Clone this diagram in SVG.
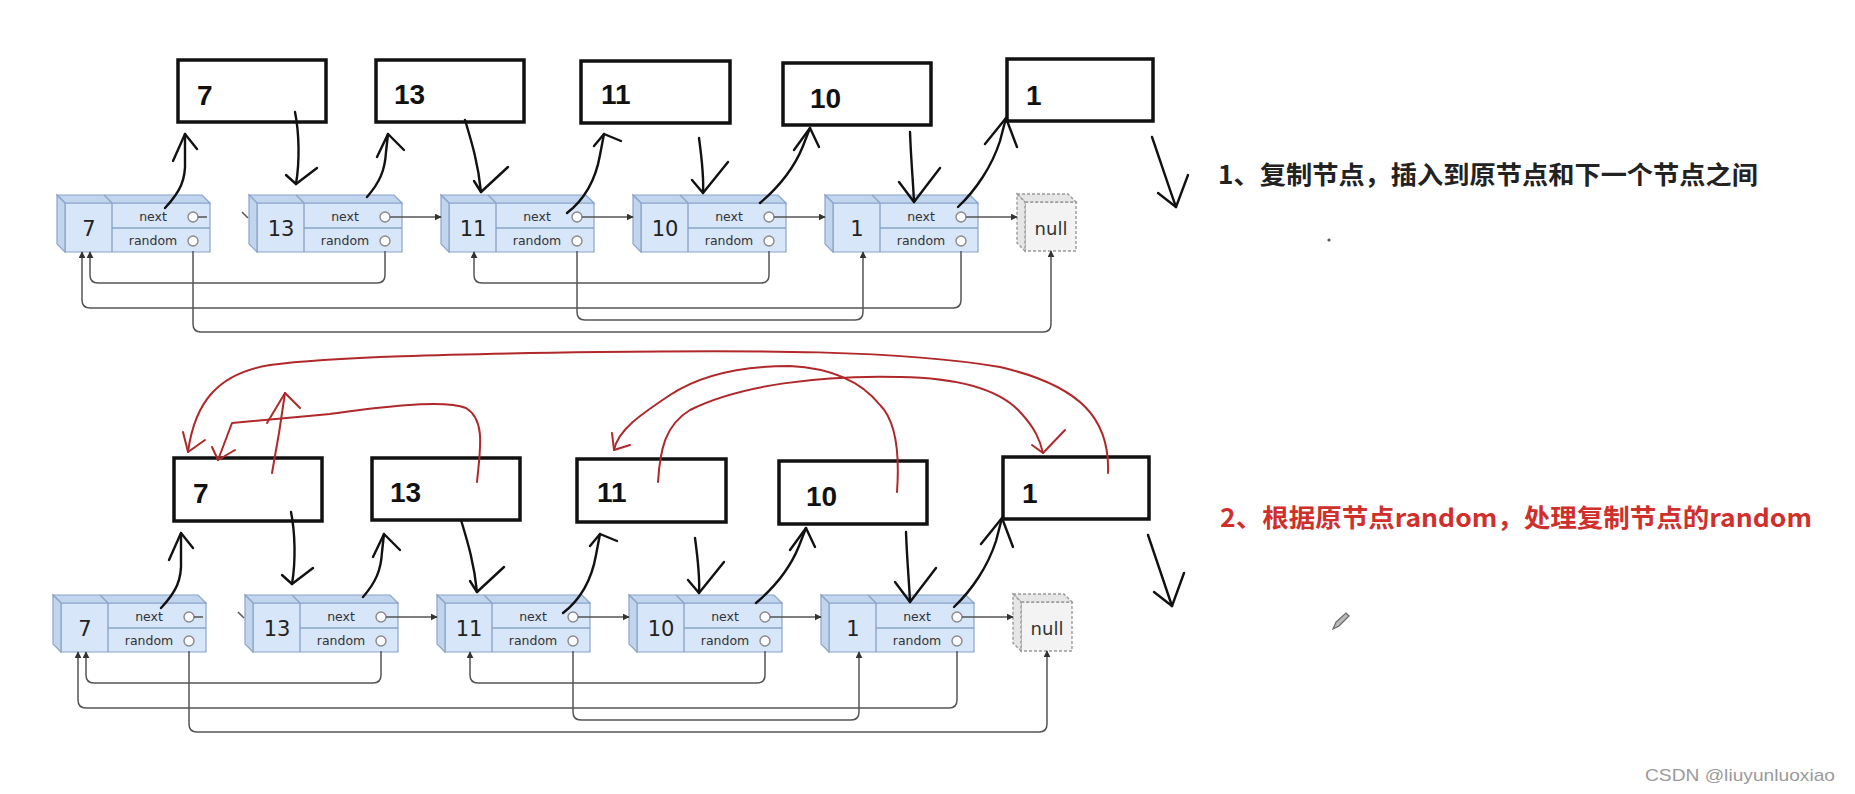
<svg xmlns="http://www.w3.org/2000/svg" xmlns:xlink="http://www.w3.org/1999/xlink" width="1855" height="794" viewBox="0 0 1855 794">
<style>
.front{fill:#d8e6fa;stroke:#8aa4c8;stroke-width:1.2}
.side{fill:#c2d5ee;stroke:#8aa4c8;stroke-width:1.2}
.div{stroke:#8aa4c8;stroke-width:1.4;fill:none}
.port{fill:#fff;stroke:#8a8a8a;stroke-width:1.4}
.nfront{fill:#f3f3f3;stroke:#9a9a9a;stroke-width:1.4;stroke-dasharray:3 2}
.nside{fill:#e6e6e6;stroke:#9a9a9a;stroke-width:1.4;stroke-dasharray:3 2}
.val{font-family:"DejaVu Sans","Liberation Sans",sans-serif;font-size:21px;fill:#222;text-anchor:middle}
.lbl{font-family:"DejaVu Sans","Liberation Sans",sans-serif;font-size:12.5px;fill:#333;text-anchor:middle}
.nul{font-family:"DejaVu Sans","Liberation Sans",sans-serif;font-size:18px;fill:#333;text-anchor:middle}
.copy{fill:#fff;stroke:#111;stroke-width:3.5}
.ctext{font-family:"Liberation Sans",Arial,sans-serif;font-weight:bold;font-size:28px;fill:#111}
.link{fill:none;stroke:#555;stroke-width:1.5;marker-end:url(#ah)}
.hand{fill:none;stroke:#111;stroke-width:2.4;stroke-linecap:round;stroke-linejoin:round}
.red{fill:none;stroke:#b0282a;stroke-width:2;stroke-linecap:round;stroke-linejoin:round}
.title{font-family:"Noto Sans CJK SC","Noto Sans",sans-serif;font-weight:bold;font-size:25px}
</style>
<defs>
<marker id="ah" viewBox="0 0 10 10" refX="9" refY="5" markerWidth="7" markerHeight="7" orient="auto-start-reverse" markerUnits="userSpaceOnUse">
<path d="M0,0 L10,5 L0,10 z" fill="#333"/>
</marker>
<g id="cube">
<polygon class="front" points="8,8 153,8 153,57 8,57"/>
<polygon class="side" points="0,0 145,0 153,8 8,8"/>
<polygon class="side" points="0,0 8,8 8,57 0,49"/>
<line class="div" x1="55" y1="8" x2="55" y2="57"/>
<line class="div" x1="47" y1="0" x2="55" y2="8"/>
<line class="div" x1="55" y1="33" x2="153" y2="33"/>
<circle class="port" cx="136" cy="22" r="5"/>
<circle class="port" cx="136" cy="46" r="5"/>
<text class="lbl" x="96" y="26">next</text>
<text class="lbl" x="96" y="50">random</text>
</g>
<g id="nullcube">
<polygon class="nfront" points="8,8 59,8 59,57 8,57"/>
<polygon class="nside" points="0,0 51,0 59,8 8,8"/>
<polygon class="nside" points="0,0 8,8 8,57 0,49"/>
</g>
</defs>
<rect width="1855" height="794" fill="#fff"/>

<!-- ===== Part 1 ===== -->
<g id="part1">
<g id="n7" transform="translate(57,195)"><use xlink:href="#cube"/><text class="val" x="32" y="41">7</text></g>
<g id="n13" transform="translate(249,195)"><use xlink:href="#cube"/><text class="val" x="32" y="41">13</text></g>
<g id="n11" transform="translate(441,195)"><use xlink:href="#cube"/><text class="val" x="32" y="41">11</text></g>
<g id="n10" transform="translate(633,195)"><use xlink:href="#cube"/><text class="val" x="32" y="41">10</text></g>
<g id="n1" transform="translate(825,195)"><use xlink:href="#cube"/><text class="val" x="32" y="41">1</text></g>
<g id="nnull" transform="translate(1017,194)"><use xlink:href="#nullcube"/><text class="nul" x="34" y="41">null</text></g>

<g id="c7"><rect class="copy" x="178" y="60" width="148" height="62"/><text class="ctext" x="197" y="105">7</text></g>
<g id="c13"><rect class="copy" x="376" y="60" width="148" height="62"/><text class="ctext" x="394" y="104">13</text></g>
<g id="c11"><rect class="copy" x="581" y="61" width="149" height="62"/><text class="ctext" x="601" y="104">11</text></g>
<g id="c10"><rect class="copy" x="783" y="63" width="148" height="62"/><text class="ctext" x="810" y="108">10</text></g>
<g id="c1"><rect class="copy" x="1007" y="59" width="146" height="62"/><text class="ctext" x="1026" y="105">1</text></g>

<g id="links1">
<path d="M198,217 H207" stroke="#555" stroke-width="1.5"/>
<path d="M242,212 L248,218" stroke="#555" stroke-width="1.5"/>
<path class="link" d="M390,217 H441"/>
<path class="link" d="M582,217 H633"/>
<path class="link" d="M774,217 H825"/>
<path class="link" d="M966,217 H1017"/>
<path class="link" d="M385,251 V275 Q385,283 377,283 H98 Q90,283 90,275 V252"/>
<path class="link" d="M961,251 V300 Q961,308 953,308 H90 Q82,308 82,300 V252"/>
<path class="link" d="M577,251 V312 Q577,320 585,320 H855 Q863,320 863,312 V252"/>
<path class="link" d="M769,251 V275 Q769,283 761,283 H482 Q474,283 474,275 V252"/>
<path class="link" d="M193,251 V324 Q193,332 201,332 H1043 Q1051,332 1051,324 V251"/>
</g>

<g id="hand1">
<path class="hand" d="M165,208 C180,192 186,180 185,160 L185,134"/><path class="hand" d="M173,161 L185,134 L197,149"/>
<path class="hand" d="M295,112 C299,132 300,160 296,184"/><path class="hand" d="M286,175 L296,184 L317,168"/>
<path class="hand" d="M367,197 C380,182 385,170 386,152 L388,134"/><path class="hand" d="M377,157 L388,134 L404,150"/>
<path class="hand" d="M465,120 C471,140 478,162 481,192"/><path class="hand" d="M474,181 L481,192 L508,167"/>
<path class="hand" d="M567,213 C589,196 597,172 600,155 L604,134"/><path class="hand" d="M594,146 L604,134 L621,141"/>
<path class="hand" d="M699,138 C702,160 704,176 703,193"/><path class="hand" d="M692,180 L703,193 L728,162"/>
<path class="hand" d="M760,203 C780,186 795,166 803,146 L810,128"/><path class="hand" d="M794,150 L810,128 L819,147"/>
<path class="hand" d="M910,132 C911,160 913,180 914,202"/><path class="hand" d="M899,182 L914,202 L940,168"/>
<path class="hand" d="M958,207 C976,190 992,166 1000,141 L1006,118"/><path class="hand" d="M985,144 L1006,118 L1017,147"/>
<path class="hand" d="M1152,137 C1160,160 1168,185 1176,207"/><path class="hand" d="M1158,193 L1176,207 L1188,175"/>
</g>
</g>

<text id="step1" class="title" x="1218" y="184" fill="#222" textLength="540" lengthAdjust="spacingAndGlyphs">1、复制节点，插入到原节点和下一个节点之间</text>
<circle cx="1329" cy="240" r="1.6" fill="#555"/>

<!-- ===== Part 2 ===== -->
<g id="part2" transform="translate(-4,398)">
<g id="m7" transform="translate(57,197)"><use xlink:href="#cube"/><text class="val" x="32" y="41">7</text></g>
<g id="m13" transform="translate(249,197)"><use xlink:href="#cube"/><text class="val" x="32" y="41">13</text></g>
<g id="m11" transform="translate(441,197)"><use xlink:href="#cube"/><text class="val" x="32" y="41">11</text></g>
<g id="m10" transform="translate(633,197)"><use xlink:href="#cube"/><text class="val" x="32" y="41">10</text></g>
<g id="m1" transform="translate(825,197)"><use xlink:href="#cube"/><text class="val" x="32" y="41">1</text></g>
<g id="mnull" transform="translate(1017,196)"><use xlink:href="#nullcube"/><text class="nul" x="34" y="41">null</text></g>

<g id="d7"><rect class="copy" x="178" y="60" width="148" height="63"/><text class="ctext" x="197" y="105">7</text></g>
<g id="d13"><rect class="copy" x="376" y="60" width="148" height="62"/><text class="ctext" x="394" y="104">13</text></g>
<g id="d11"><rect class="copy" x="581" y="61" width="149" height="63"/><text class="ctext" x="601" y="104">11</text></g>
<g id="d10"><rect class="copy" x="783" y="63" width="148" height="63"/><text class="ctext" x="810" y="108">10</text></g>
<g id="d1"><rect class="copy" x="1007" y="59" width="146" height="62"/><text class="ctext" x="1026" y="105">1</text></g>

<g id="links2">
<path d="M198,219 H207" stroke="#555" stroke-width="1.5"/>
<path d="M242,214 L248,220" stroke="#555" stroke-width="1.5"/>
<path class="link" d="M390,219 H441"/>
<path class="link" d="M582,219 H633"/>
<path class="link" d="M774,219 H825"/>
<path class="link" d="M966,219 H1017"/>
<path class="link" d="M385,253 V277 Q385,285 377,285 H98 Q90,285 90,277 V254"/>
<path class="link" d="M961,253 V302 Q961,310 953,310 H90 Q82,310 82,302 V254"/>
<path class="link" d="M577,253 V314 Q577,322 585,322 H855 Q863,322 863,314 V254"/>
<path class="link" d="M769,253 V277 Q769,285 761,285 H482 Q474,285 474,277 V254"/>
<path class="link" d="M193,253 V326 Q193,334 201,334 H1043 Q1051,334 1051,326 V253"/>
</g>

<g id="hand2">
<path class="hand" d="M165,210 C180,194 186,182 185,162 L185,135"/><path class="hand" d="M173,162 L185,135 L197,150"/>
<path class="hand" d="M295,114 C299,134 300,162 296,186"/><path class="hand" d="M286,177 L296,186 L317,170"/>
<path class="hand" d="M367,199 C380,184 385,172 386,154 L388,136"/><path class="hand" d="M377,159 L388,136 L404,152"/>
<path class="hand" d="M465,122 C471,142 478,164 481,194"/><path class="hand" d="M474,183 L481,194 L508,169"/>
<path class="hand" d="M567,215 C589,198 597,174 600,157 L604,136"/><path class="hand" d="M594,148 L604,136 L621,143"/>
<path class="hand" d="M699,140 C702,162 704,178 703,195"/><path class="hand" d="M692,182 L703,195 L728,164"/>
<path class="hand" d="M760,205 C780,188 795,168 803,148 L810,130"/><path class="hand" d="M794,152 L810,130 L819,149"/>
<path class="hand" d="M910,134 C911,162 913,182 914,204"/><path class="hand" d="M899,184 L914,204 L940,170"/>
<path class="hand" d="M958,209 C976,192 992,168 1000,143 L1006,120"/><path class="hand" d="M985,146 L1006,120 L1017,149"/>
<path class="hand" d="M1152,137 C1160,160 1168,185 1176,208"/><path class="hand" d="M1158,194 L1176,208 L1188,175"/>
</g>
</g>

<g id="redarrows">
<path class="red" d="M1108,473 C1110,420 1082,386 1000,367 C900,350 750,350 600,352 C450,354 330,357 270,365 C220,373 195,400 188,452"/>
<path class="red" d="M183,432 L188,452 L205,440"/>
<path class="red" d="M477,482 C480,450 486,420 466,408 C440,398 360,410 330,414 L232,423 L218,460"/>
<path class="red" d="M212,447 L218,460 L235,450"/>
<path class="red" d="M272,473 L279,433 L285,393"/>
<path class="red" d="M267,423 L285,393 L300,408"/>
<path class="red" d="M658,482 C660,450 665,425 690,410 C740,385 820,375 900,377 C960,378 1000,390 1020,412 C1035,428 1040,440 1043,453"/>
<path class="red" d="M1032,445 L1043,453 L1065,430"/>
<path class="red" d="M897,492 C900,450 895,420 880,405 C860,380 830,368 790,366 C740,366 700,375 670,395 C640,415 618,430 614,450"/>
<path class="red" d="M612,433 L614,450 L630,445"/>
</g>

<text id="step2" class="title" x="1220" y="527" fill="#d0302c" textLength="592" lengthAdjust="spacingAndGlyphs">2、根据原节点random，处理复制节点的random</text>

<g id="pencil">
<path d="M1333,629 L1336,622 L1346,613 L1349,616 L1339,626 Z" fill="#bbb" stroke="#666" stroke-width="1.2"/>
</g>

<text id="watermark" x="1645" y="781" font-family="Liberation Sans, Arial, sans-serif" font-size="17" fill="#9a9a9a" textLength="190" lengthAdjust="spacingAndGlyphs">CSDN @liuyunluoxiao</text>
</svg>
